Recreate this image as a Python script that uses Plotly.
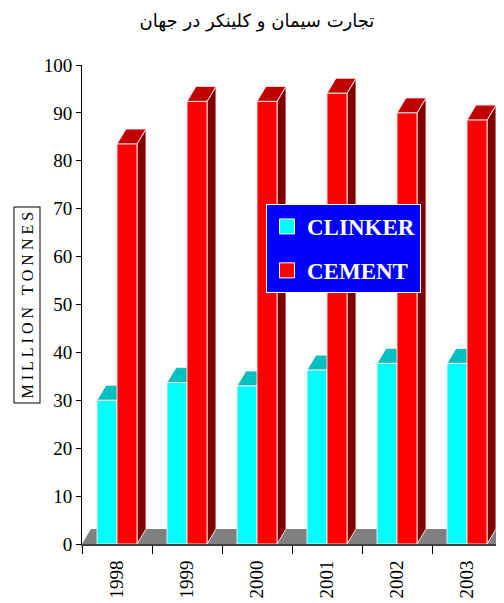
import plotly.graph_objects as go

# ---- data ----
years = ["1998", "1999", "2000", "2001", "2002", "2003"]
clinker = [30.0, 33.7, 33.0, 36.3, 37.7, 37.7]
cement = [83.5, 92.4, 92.4, 94.1, 90.0, 88.5]
y_tick_values = list(range(0, 101, 10))
series_names = ["CLINKER", "CEMENT"]
title_text = "تجارت سیمان و کلینکر در جهان"
y_title = "MILLION TONNES"

# ---- geometry / style ----
OFF = 8  # default page body margin
W, H = 504 - OFF, 603 - OFF
ML, MR = 82 - OFF, 0
MT = 65 - OFF
PLOT_BOTTOM = 544 - OFF
MB = H - PLOT_BOTTOM
PLOT_W = W - ML - MR
PLOT_H = H - MT - MB
PX_PER_CAT = 70.0
BAR_W = 20 / PX_PER_CAT
DX = 9 / PX_PER_CAT
DY = 15 / (PLOT_H / 100.0)
X_MIN = -0.5
X_MAX = X_MIN + PLOT_W / PX_PER_CAT

C_FRONT, C_TOP, C_SIDE = "#00FFFF", "#00C0C0", "#008080"
R_FRONT, R_TOP, R_SIDE = "#FF0000", "#C00000", "#800000"
FLOOR = "#808080"
EDGE = "rgba(255,235,235,0.9)"
SERIF = "Liberation Serif, Times New Roman, serif"


def faces(values, offset):
    fx, fy, tx, ty, sx, sy = [], [], [], [], [], []
    for i, v in enumerate(values):
        x0 = i + offset
        x1 = x0 + BAR_W
        fx += [x0, x1, x1, x0, x0, None]
        fy += [0, 0, v, v, 0, None]
        tx += [x0, x1, x1 + DX, x0 + DX, x0, None]
        ty += [v, v, v + DY, v + DY, v, None]
        sx += [x1, x1 + DX, x1 + DX, x1, x1, None]
        sy += [0, DY, v + DY, v, 0, None]
    return (fx, fy), (tx, ty), (sx, sy)


def poly(xy, color, edge=EDGE, width=1):
    return go.Scatter(
        x=xy[0], y=xy[1], mode="lines", fill="toself", fillcolor=color,
        line=dict(color=edge, width=width), showlegend=False, hoverinfo="skip",
    )


fig = go.Figure()

# floor
n = len(years)
fig.add_trace(poly(([X_MIN, n + 1, n + 1 + DX, X_MIN + DX, X_MIN],
                    [0, 0, DY, DY, 0]), FLOOR, edge=FLOOR, width=0))

cf, ct, cs = faces(clinker, -BAR_W)
rf, rt, rs = faces(cement, 0.0)
fig.add_trace(poly(cs, C_SIDE))
fig.add_trace(poly(ct, C_TOP))
fig.add_trace(poly(cf, C_FRONT))
fig.add_trace(poly(rs, R_SIDE))
fig.add_trace(poly(rt, R_TOP))
fig.add_trace(poly(rf, R_FRONT))

# legend entries
for name, col, grp in [(series_names[0], C_FRONT, "a"), (series_names[1], R_FRONT, "b")]:
    fig.add_trace(go.Scatter(
        x=[None], y=[None], mode="markers", name=name, legendgroup=grp,
        marker=dict(symbol="square", size=15, color=col, line=dict(color="white", width=1)),
    ))


def px_x(xp):
    return (xp - OFF - ML) / PLOT_W


def px_y(yp):
    return (PLOT_BOTTOM - (yp - OFF)) / PLOT_H


fig.update_layout(
    width=W, height=H,
    margin=dict(l=ML, r=MR, t=MT, b=MB, autoexpand=False),
    paper_bgcolor="white", plot_bgcolor="white",
    title=dict(text=title_text, x=(257 - OFF) / W, xref="container",
               y=1 - (21 - OFF) / H, yref="container",
               xanchor="center", yanchor="middle",
               font=dict(family="DejaVu Sans", size=18, color="black")),
    legend=dict(
        x=px_x(266), y=px_y(204),
        xanchor="left", yanchor="top",
        bgcolor="#0000FF", bordercolor="white", borderwidth=1,
        font=dict(family=SERIF, size=23, color="white", weight="bold"),
        tracegroupgap=11,
    ),
    xaxis=dict(
        range=[X_MIN, X_MAX], tickvals=list(range(n)), ticktext=years,
        ticks="", ticklen=0, tickangle=-90, ticklabelstandoff=7,
        tickfont=dict(family=SERIF, size=19, color="black"),
        showline=True, linecolor="#404040", linewidth=2,
        showgrid=False, zeroline=False, automargin=False,
        minor=dict(tickvals=[X_MIN + k for k in range(n + 1)], ticks="outside",
                   ticklen=8, tickcolor="black", tickwidth=1, showgrid=False),
    ),
    yaxis=dict(
        range=[0, 100], tickvals=y_tick_values, ticks="outside", ticklen=5,
        tickcolor="black", tickfont=dict(family=SERIF, size=19, color="black"),
        showline=True, linecolor="black", linewidth=1,
        showgrid=False, zeroline=False, automargin=False,
    ),
    annotations=[dict(
        text="&nbsp;".join(list(y_title)).replace("&nbsp; &nbsp;", "&nbsp;&nbsp;&nbsp;"),
        xref="paper", yref="paper",
        x=px_x(26.5), y=px_y(305),
        xanchor="center", yanchor="middle", textangle=-90, showarrow=False,
        font=dict(family=SERIF, size=16, color="black"),
        bordercolor="black", borderwidth=1, borderpad=4, bgcolor="white",
    )],
)

fig.write_html("out.html")
